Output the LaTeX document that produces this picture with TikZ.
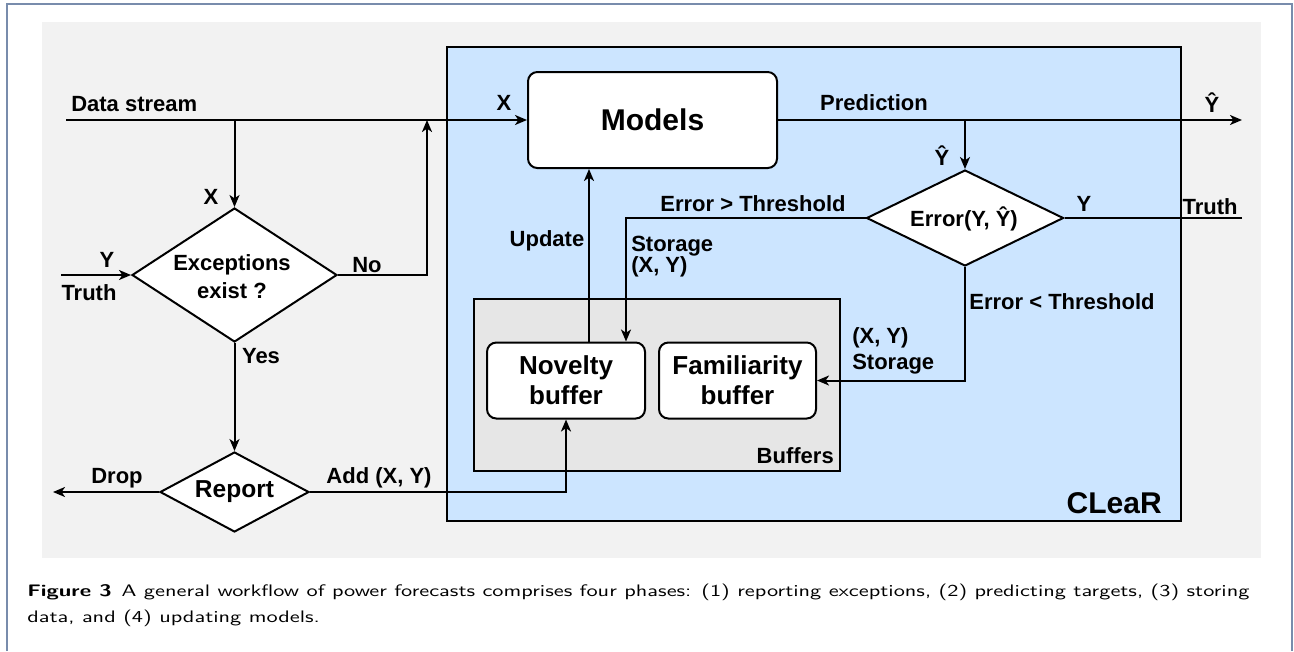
\documentclass[tikz,border=0pt]{standalone}
\usepackage{fontspec}
\usetikzlibrary{shapes.geometric,arrows.meta}
\newfontfamily\diafont{Liberation Sans}
\newfontfamily\capfont{lmsans10-regular.otf}[BoldFont=lmsans10-bold.otf,FakeStretch=1.34]
\definecolor{framecol}{RGB}{120,140,172}
\definecolor{bggray}{RGB}{242,242,242}
\definecolor{clearblue}{RGB}{204,229,255}
\definecolor{bufgray}{RGB}{230,230,230}
\newcommand\lblfont{\diafont\bfseries\fontsize{16.5pt}{19.5pt}\selectfont}
\newcommand\bigfont{\diafont\bfseries\fontsize{22.5pt}{27pt}\selectfont}
\newcommand\buffont{\diafont\bfseries\fontsize{19.5pt}{22.5pt}\selectfont}
\newcommand\repfont{\diafont\bfseries\fontsize{18.4pt}{22pt}\selectfont}
\begin{document}
\begin{tikzpicture}[x=0.75pt,y=-0.75pt,
  conn/.style={line width=1.5pt},
  arr/.style={conn,-{Stealth[length=9pt,width=7.5pt,inset=2.5pt]}},
  lbl/.style={font=\lblfont,inner sep=0pt},
  rbox/.style={draw,line width=1.5pt,fill=white,rounded corners=7pt,inner sep=0pt,align=center},
  dbox/.style={draw,diamond,line width=1.5pt,fill=white,inner sep=0pt},
]
\useasboundingbox (0,0) rectangle (1294,651);
\fill[white] (0,0) rectangle (1294,651);
\draw[framecol,line width=1.5pt] (7,651) -- (7,4) -- (1292,4) -- (1292,651);
\fill[bggray] (42,22) rectangle (1261,558);

% containers
\node (clear) [draw,fill=clearblue,line width=1.8pt,inner sep=0pt,
  minimum width=550.5pt,minimum height=355.5pt] at (814,284) {};
\node (buffers) [draw,fill=bufgray,line width=1.5pt,inner sep=0pt,
  minimum width=274.5pt,minimum height=129pt] at (657,385) {};
\node[lbl,anchor=east] (buflbl) at (834,456) {Buffers};
\node[font=\bigfont,inner sep=0pt,anchor=base east] (clearlbl) at (1162,513) {CLeaR};

% main nodes
\node (models) [rbox,minimum width=186.75pt,minimum height=72pt,font=\bigfont] at (652.5,120) {Models};
\node (nov) [rbox,minimum width=118.5pt,minimum height=57pt,font=\buffont] at (566,380.5) {Novelty\\buffer};
\node (fam) [rbox,minimum width=117.75pt,minimum height=57pt,font=\buffont] at (737.5,380.5) {Familiarity\\buffer};
\node (exc) [dbox,minimum width=153.75pt,minimum height=100.5pt] at (234.5,275) {};
\node[lbl,align=center] (exctxt) at (232,276.5) {Exceptions\\[1.5pt]exist ?};
\node (rep) [dbox,minimum width=111.75pt,minimum height=60pt] at (234.5,492) {};
\node[font=\repfont,inner sep=0pt] (reptxt) at (234.5,492) {Report};
\node (err) [dbox,minimum width=147.75pt,minimum height=72pt] at (965,218) {};
\node[lbl] (errtxt) at (964,219) {Error(Y, Ŷ)};

% free ends and junctions
\coordinate (dsin) at (66,120);
\coordinate (j1) at (234.5,120);
\coordinate (j2) at (427,120);
\coordinate (truthl) at (61,275);
\coordinate (drop) at (53,492);
\coordinate (yout) at (1242,120);
\coordinate (j3) at (965,120);
\coordinate (truthr) at (1242,218);

% connectors
\draw[arr] (dsin) -- (models.west);
\draw[arr] (j1) -- (exc.north);
\draw[arr] (exc.east) -- (exc.east -| j2) -- (j2);
\draw[arr] (truthl) -- (exc.west);
\draw[arr] (exc.south) -- (rep.north);
\draw[arr] (rep.west) -- (drop);
\draw[arr] (rep.east) -| (nov.south);
\draw[arr] ([xshift=17.25pt]nov.north) -- ([xshift=17.25pt]nov.north |- models.south);
\draw[arr] (err.west) -| ([xshift=45pt]nov.north);
\draw[arr] (models.east) -- (yout);
\draw[arr] (j3) -- (err.north);
\draw[conn] (truthr) -- (err.east);
\draw[arr] (err.south) |- (fam.east);

% labels
\node[lbl,anchor=base west] (l1) at (71,111) {Data stream};
\node[lbl] (l2) at (504,103) {X};
\node[lbl] (l3) at (211,197) {X};
\node[lbl] (l4) at (107,260) {Y};
\node[lbl] (l5) at (89,293) {Truth};
\node[lbl] (l6) at (367,265) {No};
\node[lbl] (l7) at (261,356) {Yes};
\node[lbl] (l8) at (117,478) {Drop};
\node[lbl] (l9) at (379,478) {Add (X, Y)};
\node[lbl] (l10) at (547,241) {Update};
\node[lbl] (l11) at (753,204) {Error > Threshold};
\node[lbl,anchor=west,align=left,font=\diafont\bfseries\fontsize{16.5pt}{15.75pt}\selectfont] (l12) at (631,257) {Storage\\(X, Y)};
\node[lbl] (l13) at (874,103) {Prediction};
\node[lbl] (l14) at (1212,103) {Ŷ};
\node[lbl] (l15) at (942,156) {Ŷ};
\node[lbl] (l16) at (1084,204) {Y};
\node[lbl] (l17) at (1210,207) {Truth};
\node[lbl] (l18) at (1062,302) {Error < Threshold};
\node[lbl,anchor=west,align=left] (l19) at (852,351) {(X, Y)\\Storage};

% caption
\node[anchor=north west,inner sep=0pt,align=left,
  font=\capfont\fontsize{12.5pt}{19.5pt}\selectfont] (cap) at (27,584)
  {\textbf{Figure 3}\hspace{0.6em}A general workflow of power forecasts comprises four phases: (1) reporting exceptions, (2) predicting targets, (3) storing\\ data, and (4) updating models.};
\end{tikzpicture}
\end{document}
